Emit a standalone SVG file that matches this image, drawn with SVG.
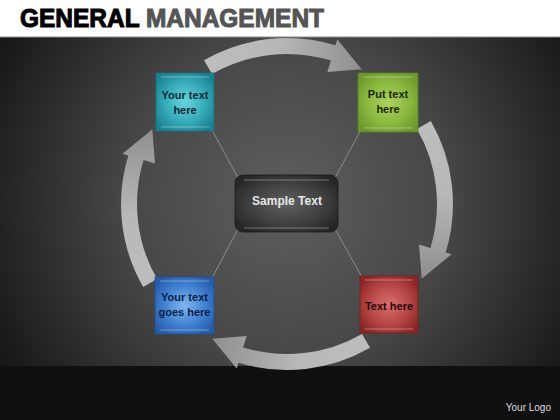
<svg xmlns="http://www.w3.org/2000/svg" xmlns:xlink="http://www.w3.org/1999/xlink" width="560" height="420" viewBox="0 0 560 420">
  <defs>
    <style>
      .title { font-family: "Liberation Sans", Arial, sans-serif; font-weight: bold; font-size: 25px; }
      .lbl { font-family: "Liberation Sans", Arial, sans-serif; font-weight: bold; font-size: 11px; text-anchor: middle; }
      .ctr { font-family: "Liberation Sans", Arial, sans-serif; font-weight: bold; font-size: 12px; text-anchor: middle; fill: #e6e6e6; }
      .logo { font-family: "Liberation Sans", Arial, sans-serif; font-size: 10px; text-anchor: end; fill: #dcdcdc; }
      .link { stroke: #8c8c8c; stroke-width: 1; fill: none; }
      .hl { stroke: #ffffff; stroke-opacity: 0.35; stroke-width: 1.2; }
      .box { stroke-width: 0.8; }
    </style>
    <radialGradient id="panel" gradientUnits="userSpaceOnUse" cx="287" cy="200" r="330">
      <stop offset="0" stop-color="#5e5e5e"/>
      <stop offset="0.5" stop-color="#464646"/>
      <stop offset="1" stop-color="#161616"/>
    </radialGradient>
    <linearGradient id="arrowGrad" gradientUnits="userSpaceOnUse" x1="204" y1="60" x2="362" y2="69">
      <stop offset="0" stop-color="#bdbdbd"/>
      <stop offset="0.45" stop-color="#b8b8b8"/>
      <stop offset="1" stop-color="#8f8f8f"/>
    </linearGradient>
    <radialGradient id="teal" cx="0.5" cy="0.5" r="0.6">
      <stop offset="0" stop-color="#66d6de"/>
      <stop offset="0.6" stop-color="#34a9b7"/>
      <stop offset="1" stop-color="#1c8190"/>
    </radialGradient>
    <radialGradient id="green" cx="0.5" cy="0.5" r="0.6">
      <stop offset="0" stop-color="#acd35e"/>
      <stop offset="0.6" stop-color="#8ab83f"/>
      <stop offset="1" stop-color="#6b992b"/>
    </radialGradient>
    <radialGradient id="blue" cx="0.5" cy="0.5" r="0.6">
      <stop offset="0" stop-color="#80b6f0"/>
      <stop offset="0.6" stop-color="#3f80d0"/>
      <stop offset="1" stop-color="#285ca9"/>
    </radialGradient>
    <radialGradient id="red" cx="0.5" cy="0.5" r="0.6">
      <stop offset="0" stop-color="#d86e6e"/>
      <stop offset="0.6" stop-color="#b64545"/>
      <stop offset="1" stop-color="#8c2626"/>
    </radialGradient>
    <radialGradient id="dark" cx="0.5" cy="0.5" r="0.6">
      <stop offset="0" stop-color="#606060"/>
      <stop offset="0.6" stop-color="#404040"/>
      <stop offset="1" stop-color="#262626"/>
    </radialGradient>
    <path id="arc" d="M204.0,60.2 A166,166 0 0 1 335.5,45.3 L337.3,39.5 L361.7,69.3 L327.4,72.0 L330.9,60.6 A150,150 0 0 0 212,74.1 Z" fill="url(#arrowGrad)"/>
  </defs>

  <!-- background -->
  <rect x="0" y="0" width="560" height="420" fill="#ffffff"/>
  <rect x="0" y="37" width="560" height="330" fill="url(#panel)"/>
  <line x1="0" y1="37" x2="560" y2="37" stroke="#8a8a8a" stroke-width="1"/>
  <rect x="0" y="366" width="560" height="54" fill="#101010"/>

  <text class="title" x="20" y="27" textLength="304" lengthAdjust="spacingAndGlyphs"><tspan fill="#000000" stroke="#000000" stroke-width="1">GENERAL </tspan><tspan fill="#555555" stroke="#555555" stroke-width="1">MANAGEMENT</tspan></text>

  <g id="connectors">
    <line class="link" x1="211" y1="128" x2="238" y2="178"/>
    <line class="link" x1="362" y1="128" x2="335" y2="178"/>
    <line class="link" x1="211" y1="280" x2="238" y2="229"/>
    <line class="link" x1="363" y1="279" x2="335" y2="229"/>
    <use xlink:href="#arc"/>
    <use xlink:href="#arc" transform="rotate(90 287 204)"/>
    <use xlink:href="#arc" transform="rotate(180 287 204)"/>
    <use xlink:href="#arc" transform="rotate(270 287 204)"/>
  </g>

  <g id="node-center">
    <rect class="box" x="235" y="175" width="103" height="57" rx="8" fill="url(#dark)" stroke="#1a1a1a"/>
    <line class="hl" x1="244" y1="180" x2="329" y2="180" stroke-opacity="0.2"/>
    <line class="hl" x1="244" y1="228" x2="329" y2="228" stroke-opacity="0.2"/>
    <text class="ctr" x="287" y="205">Sample Text</text>
  </g>

  <g id="node-teal">
    <rect class="box" x="156" y="73" width="58" height="58" fill="url(#teal)" stroke="#17707c"/>
    <line class="hl" x1="161" y1="77" x2="209" y2="77"/>
    <line class="hl" x1="161" y1="127" x2="209" y2="127"/>
    <text class="lbl" x="185" y="99" fill="#0d2a30">Your text</text>
    <text class="lbl" x="185" y="114" fill="#0d2a30">here</text>
  </g>

  <g id="node-green">
    <rect class="box" x="358" y="73" width="60" height="59" fill="url(#green)" stroke="#5a8424"/>
    <line class="hl" x1="363" y1="77" x2="413" y2="77"/>
    <line class="hl" x1="363" y1="128" x2="413" y2="128"/>
    <text class="lbl" x="388" y="98" fill="#1a2608">Put text</text>
    <text class="lbl" x="388" y="113" fill="#1a2608">here</text>
  </g>

  <g id="node-blue">
    <rect class="box" x="155" y="277" width="59" height="57" fill="url(#blue)" stroke="#224f93"/>
    <line class="hl" x1="160" y1="281" x2="209" y2="281"/>
    <line class="hl" x1="160" y1="330" x2="209" y2="330"/>
    <text class="lbl" x="184.5" y="301" fill="#0b1d48">Your  text</text>
    <text class="lbl" x="184.5" y="316" fill="#0b1d48">goes here</text>
  </g>

  <g id="node-red">
    <rect class="box" x="360" y="276" width="58" height="57" fill="url(#red)" stroke="#7a1f1f"/>
    <line class="hl" x1="365" y1="280" x2="413" y2="280"/>
    <line class="hl" x1="365" y1="329" x2="413" y2="329"/>
    <text class="lbl" x="389" y="310" fill="#2a0707">Text here</text>
  </g>

  <text class="logo" x="551" y="411">Your Logo</text>
</svg>
